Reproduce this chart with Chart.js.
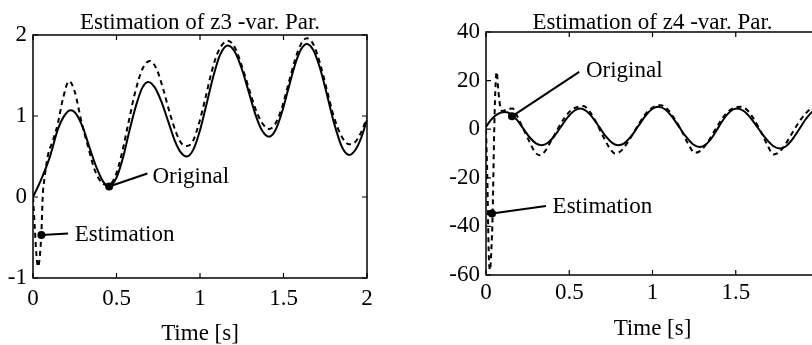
<!DOCTYPE html>
<html>
<head>
<meta charset="utf-8">
<script src="https://cdn.jsdelivr.net/npm/chart.js@4.4.0/dist/chart.umd.min.js"></script>
<style>
  html, body { margin: 0; padding: 0; background: #fff; overflow: hidden; width: 812px; height: 345px; }
  canvas { position: absolute; top: 0; }
  #c3 { left: 0; }
  #c4 { left: 406px; }
</style>
</head>
<body>
<canvas id="c3" width="406" height="345"></canvas>
<canvas id="c4" width="430" height="345"></canvas>
<script>
// z3 - original (solid)
const t3Orig = [0, 0.05, 0.1, 0.15, 0.19, 0.226, 0.26, 0.30, 0.34, 0.38, 0.42, 0.456, 0.50, 0.54, 0.58, 0.62, 0.655, 0.69,
  0.73, 0.77, 0.81, 0.85, 0.885, 0.92, 0.96, 1.00, 1.04, 1.08, 1.12, 1.167, 1.21, 1.25, 1.29, 1.33, 1.37, 1.413,
  1.45, 1.49, 1.53, 1.57, 1.605, 1.64, 1.68, 1.72, 1.76, 1.80, 1.85, 1.894, 1.93, 1.965, 2.0];
const z3Orig = [0, 0.22, 0.49, 0.84, 1.01, 1.07, 1.02, 0.85, 0.60, 0.365, 0.19, 0.13, 0.24, 0.495, 0.84, 1.15, 1.35, 1.42,
  1.35, 1.17, 0.93, 0.69, 0.55, 0.50, 0.585, 0.824, 1.155, 1.49, 1.755, 1.87, 1.787, 1.583, 1.31, 1.03, 0.827, 0.745,
  0.818, 1.04, 1.344, 1.64, 1.824, 1.89, 1.808, 1.58, 1.265, 0.933, 0.617, 0.52, 0.58, 0.73, 0.95];
// z3 - estimation (dashed)
const t3Est = [0, 0.01, 0.02, 0.03, 0.04, 0.05, 0.058, 0.07, 0.09, 0.12, 0.15, 0.18, 0.216, 0.25, 0.29, 0.33, 0.37, 0.41,
  0.45, 0.49, 0.53, 0.57, 0.61, 0.655, 0.70, 0.74, 0.78, 0.82, 0.86, 0.89, 0.92, 0.955, 0.99, 1.03, 1.07, 1.11, 1.167,
  1.21, 1.25, 1.29, 1.33, 1.37, 1.413, 1.45, 1.49, 1.53, 1.57, 1.605, 1.64, 1.68, 1.72, 1.76, 1.80, 1.85, 1.894, 1.93, 1.965, 2.0];
const z3Est = [0, -0.35, -0.7, -0.86, -0.75, -0.45, 0.0, 0.25, 0.52, 0.7, 0.92, 1.22, 1.43, 1.3, 0.93, 0.62, 0.33, 0.18,
  0.15, 0.24, 0.52, 0.9, 1.28, 1.58, 1.68, 1.58, 1.33, 1.03, 0.78, 0.66, 0.63, 0.68, 0.88, 1.2, 1.55, 1.8, 1.93,
  1.84, 1.62, 1.36, 1.1, 0.92, 0.84, 0.9, 1.1, 1.4, 1.7, 1.89, 1.96, 1.88, 1.64, 1.32, 1.0, 0.74, 0.65, 0.68, 0.8, 0.98];

// z4 - original (solid)
const t4Orig = [0, 0.03, 0.06, 0.09, 0.114, 0.15, 0.19, 0.225, 0.26, 0.30, 0.334, 0.37, 0.41, 0.45, 0.49, 0.53, 0.565,
  0.60, 0.64, 0.68, 0.72, 0.76, 0.795, 0.83, 0.87, 0.915, 0.96, 1.0, 1.035, 1.075, 1.12, 1.16, 1.20, 1.245, 1.285,
  1.32, 1.36, 1.395, 1.43, 1.47, 1.506, 1.55, 1.59, 1.636, 1.68, 1.725, 1.766, 1.80, 1.84, 1.88, 1.92, 1.96, 2.0];
const z4Orig = [1.0, 3.8, 5.8, 6.9, 7.1, 6.2, 3.5, 0.1, -3.2, -5.8, -6.6, -5.7, -2.9, 1.0, 4.9, 7.6, 8.5,
  7.6, 4.8, 0.95, -3.0, -5.75, -6.6, -5.8, -3.1, 1.3, 5.7, 8.4, 9.2, 8.2, 4.9, 0.95, -3.0, -6.3, -7.3,
  -6.3, -3.2, 0.65, 4.4, 7.5, 8.5, 7.4, 4.6, 0.3, -3.8, -6.9, -7.9, -7.1, -4.2, -0.1, 4.1, 7.2, 8.3];
// z4 - estimation (dashed)
const t4Est = [0, 0.008, 0.016, 0.024, 0.032, 0.04, 0.048, 0.056, 0.064, 0.074, 0.086, 0.10, 0.13, 0.16, 0.19, 0.225,
  0.26, 0.295, 0.324, 0.355, 0.39, 0.43, 0.47, 0.51, 0.55, 0.585, 0.62, 0.66, 0.70, 0.74, 0.775, 0.81, 0.85, 0.89,
  0.93, 0.97, 1.01, 1.05, 1.09, 1.13, 1.17, 1.21, 1.255, 1.29, 1.33, 1.37, 1.41, 1.45, 1.49, 1.53, 1.57, 1.61, 1.65,
  1.69, 1.726, 1.76, 1.80, 1.84, 1.88, 1.92, 1.96, 2.0];
const z4Est = [0, -20, -50, -58, -50, -34.7, -5, 16, 23.6, 16, 9, 7.5, 8.3, 8.5, 5, 0,
  -5, -9.5, -10.7, -9, -5, 0, 4.5, 7.8, 9.2, 9.5, 7.5, 3, -2.5, -7.5, -10, -9, -5.5, -1,
  3.5, 7.2, 9.3, 9.9, 8.2, 4.5, 0, -5.5, -9.7, -8.8, -5.5, -1, 3.5, 7, 8.8, 9.2, 7.8, 4, -1,
  -6.5, -10.4, -9.5, -6, -1.5, 3, 6.5, 8.8, 9.5];

// labels with pointer: [dot x, dot y], [line end x, y], [text x, y]
const notes3 = [
  { text: "Original", dot: [0.456, 0.13], end: [0.685, 0.29], at: [0.715, 0.25] },
  { text: "Estimation", dot: [0.05, -0.47], end: [0.21, -0.45], at: [0.25, -0.47] },
];
const notes4 = [
  { text: "Original", dot: [0.156, 5.3], end: [0.56, 23.6], at: [0.60, 24] },
  { text: "Estimation", dot: [0.036, -34.7], end: [0.36, -31.6], at: [0.40, -31.9] },
];

Chart.defaults.font.family = "'Liberation Serif', 'Times New Roman', serif";
Chart.defaults.font.size = 23;
Chart.defaults.color = "#000";

const pts = (xs, ys) => xs.map((x, i) => ({ x: x, y: ys[i] }));

// box + inward ticks + the pointer labels
const framePlugin = {
  id: "frame",
  afterDatasetsDraw(chart, args, opts) {
    const { ctx, chartArea: a, scales } = chart;
    const sx = scales.x, sy = scales.y;
    ctx.save();
    ctx.strokeStyle = "#000";
    ctx.lineWidth = 1.5;
    ctx.strokeRect(a.left, a.top, a.right - a.left, a.bottom - a.top);
    ctx.lineWidth = 1.2;
    ctx.beginPath();
    sx.ticks.forEach((t) => {
      const p = sx.getPixelForValue(t.value);
      ctx.moveTo(p, a.bottom); ctx.lineTo(p, a.bottom - 5);
      ctx.moveTo(p, a.top); ctx.lineTo(p, a.top + 5);
    });
    sy.ticks.forEach((t) => {
      const p = sy.getPixelForValue(t.value);
      ctx.moveTo(a.left, p); ctx.lineTo(a.left + 5, p);
      ctx.moveTo(a.right, p); ctx.lineTo(a.right - 5, p);
    });
    ctx.stroke();

    (opts.notes || []).forEach((n) => {
      const dx = sx.getPixelForValue(n.dot[0]), dy = sy.getPixelForValue(n.dot[1]);
      ctx.lineWidth = 2;
      ctx.beginPath();
      ctx.moveTo(dx, dy);
      ctx.lineTo(sx.getPixelForValue(n.end[0]), sy.getPixelForValue(n.end[1]));
      ctx.stroke();
      ctx.beginPath();
      ctx.arc(dx, dy, 4, 0, Math.PI * 2);
      ctx.fillStyle = "#000";
      ctx.fill();
      ctx.font = "23px 'Liberation Serif', serif";
      ctx.textBaseline = "middle";
      ctx.textAlign = "left";
      ctx.fillText(n.text, sx.getPixelForValue(n.at[0]), sy.getPixelForValue(n.at[1]));
    });
    ctx.restore();
  },
};

function makeChart(id, cfg) {
  const ctx = document.getElementById(id).getContext("2d");
  return new Chart(ctx, {
    type: "line",
    data: {
      datasets: [
        {
          label: "Original",
          data: pts(cfg.tOrig, cfg.zOrig),
          borderColor: "#000",
          borderWidth: 2,
          pointRadius: 0,
          cubicInterpolationMode: "monotone",
        },
        {
          label: "Estimation",
          data: pts(cfg.tEst, cfg.zEst),
          borderColor: "#000",
          borderWidth: 2,
          borderDash: [5, 4],
          pointRadius: 0,
          cubicInterpolationMode: "monotone",
        },
      ],
    },
    options: {
      responsive: false,
      animation: false,
      devicePixelRatio: 1,
      layout: { padding: { left: 0, right: cfg.padRight, top: 0, bottom: 0 } },
      plugins: {
        legend: { display: false },
        tooltip: { enabled: false },
        title: {
          display: true,
          text: cfg.title,
          fullSize: false,
          font: { size: 23, weight: "normal", lineHeight: 1 },
          padding: { top: cfg.titleTop, bottom: cfg.titleBottom },
        },
        frame: { notes: cfg.notes },
      },
      scales: {
        x: {
          type: "linear",
          min: 0,
          max: 2,
          grid: { display: false, drawTicks: false },
          border: { display: false },
          ticks: { stepSize: 0.5, padding: cfg.xTickPad, maxRotation: 0, callback: (v) => String(v) },
          title: { display: true, text: "Time [s]", font: { size: 23, lineHeight: 1 }, padding: { top: 0, bottom: cfg.xTitleBottom } },
          afterFit: (s) => { s.height = cfg.xHeight; s.paddingLeft = 0; s.paddingRight = 0; },
        },
        y: {
          min: cfg.yMin,
          max: cfg.yMax,
          grid: { display: false, drawTicks: false },
          border: { display: false },
          ticks: { stepSize: cfg.yStep, padding: 6, callback: (v) => String(v) },
          afterFit: (s) => { s.width = cfg.yWidth; s.paddingTop = 0; s.paddingBottom = 0; },
        },
      },
    },
    plugins: [framePlugin],
  });
}

makeChart("c3", {
  title: "Estimation of z3 -var. Par.",
  tOrig: t3Orig, zOrig: z3Orig, tEst: t3Est, zEst: z3Est,
  yMin: -1, yMax: 2, yStep: 1,
  yWidth: 33, padRight: 39, titleTop: 11.2, titleBottom: 0.8, xHeight: 67,
  xTickPad: 7, xTitleBottom: 0,
  notes: notes3,
});

makeChart("c4", {
  title: "Estimation of z4 -var. Par.",
  tOrig: t4Orig, zOrig: z4Orig, tEst: t4Est, zEst: z4Est,
  yMin: -60, yMax: 40, yStep: 20,
  yWidth: 80, padRight: 17, titleTop: 11, titleBottom: -2, xHeight: 70,
  xTickPad: 4, xTitleBottom: 5,
  notes: notes4,
});
</script>
</body>
</html>
